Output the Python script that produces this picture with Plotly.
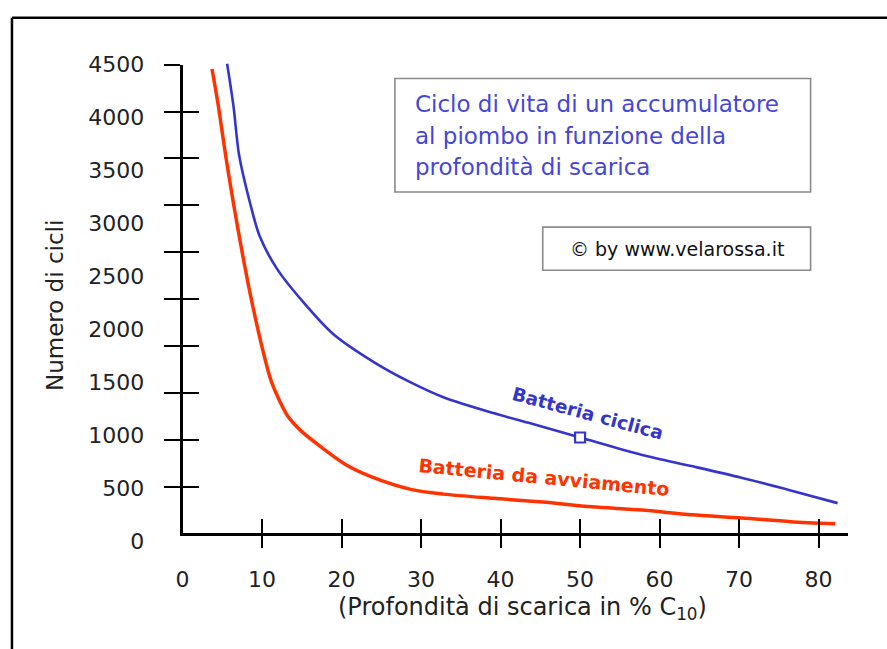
import plotly.graph_objects as go

# ---- data ----
depth_ciclica = [5.6, 6.4, 7.1, 8.5, 9.7, 11.9, 15.1, 18.9, 24.1, 28.7, 32.8,
                 39.1, 44.4, 50.0, 57.8, 64.0, 70.3, 76.5, 82.4]
cicli_ciclica = [4510, 4110, 3650, 3190, 2880, 2570, 2265, 1960, 1690, 1500, 1360,
                 1210, 1100, 980, 815, 710, 600, 480, 360]

depth_avviamento = [3.7, 4.5, 5.4, 6.4, 7.5, 8.7, 10.1, 11.2, 13.2, 15.0, 17.6, 20.6,
                    23.7, 28.7, 32.8, 39.1, 45.3, 51.5, 57.8, 64.0, 70.3, 76.5, 82.1]
cicli_avviamento = [4460, 4110, 3650, 3190, 2725, 2265, 1800, 1500, 1185, 1035, 880, 720,
                    610, 490, 445, 405, 370, 325, 295, 250, 220, 185, 165]

punto_x = [50]
punto_y = [980]

x_ticks = [0, 10, 20, 30, 40, 50, 60, 70, 80]
y_labels = [0, 500, 1000, 1500, 2000, 2500, 3000, 3500, 4000, 4500]
y_marks = [500, 1000, 1500, 2000, 2500, 3000, 3500, 4000, 4500, 5000]

W, H = 887, 649
def px(x):
    return x / W
def py(y):
    return 1 - y / H

BLUE = "#3535cc"
RED = "#ff3300"
FONT = "DejaVu Sans"
INK = "#222222"

fig = go.Figure()
fig.add_trace(go.Scatter(x=depth_avviamento, y=cicli_avviamento, mode="lines",
                         line=dict(color=RED, width=3.5, shape="spline", smoothing=0.8),
                         xaxis="x", yaxis="y", hoverinfo="skip"))
fig.add_trace(go.Scatter(x=depth_ciclica, y=cicli_ciclica, mode="lines",
                         line=dict(color=BLUE, width=2.6, shape="spline", smoothing=0.8),
                         xaxis="x", yaxis="y", hoverinfo="skip"))
fig.add_trace(go.Scatter(x=punto_x, y=punto_y, mode="markers",
                         marker=dict(symbol="square", size=10, color="white",
                                     line=dict(color=BLUE, width=2.2)),
                         xaxis="x", yaxis="y", hoverinfo="skip"))
# empty traces so that the axis-only subplots (tick marks / axis lines) are drawn
for xa, ya in [("x", "y2"), ("x2", "y2"), ("x3", "y2"), ("x", "y3")]:
    fig.add_trace(go.Scatter(x=[], y=[], xaxis=xa, yaxis=ya, mode="lines",
                             hoverinfo="skip", showlegend=False))

x0_px, x1_px = 177, 848
x80_px = 818
upx = (x80_px - x0_px) / 80.0
x_range = [0, (x1_px - x0_px) / upx]

y0_lab, y4500_lab = 545, 58
upy = (y0_lab - y4500_lab) / 4500.0
ydom_bot, ydom_top = 552, 54
y_range = [-(ydom_bot - y0_lab) / upy, 4500 + (y4500_lab - ydom_top) / upy]

tick_dom = [py(537), py(58)]
tickfont = dict(family=FONT, size=22, color=INK)

fig.update_layout(
    width=W, height=H,
    margin=dict(l=0, r=0, t=0, b=0),
    paper_bgcolor="white", plot_bgcolor="rgba(0,0,0,0)",
    showlegend=False,
    xaxis=dict(domain=[px(x0_px), px(x1_px)], range=x_range, anchor="y2",
               tickvals=x_ticks, ticks="outside", ticklen=24, tickcolor="rgba(0,0,0,0)",
               showline=True, linewidth=3, linecolor="black",
               showgrid=False, zeroline=False, tickfont=tickfont),
    xaxis2=dict(overlaying="x", anchor="y2", range=x_range, side="bottom",
                tickvals=x_ticks[1:], ticks="outside", ticklen=14, tickwidth=2,
                tickcolor="black", showticklabels=False, showline=False,
                showgrid=False, zeroline=False),
    xaxis3=dict(overlaying="x", anchor="y2", range=x_range, side="bottom",
                tickvals=x_ticks[1:], ticks="inside", ticklen=14, tickwidth=2,
                tickcolor="black", showticklabels=False, showline=False,
                showgrid=False, zeroline=False),
    yaxis=dict(domain=[py(ydom_bot), py(ydom_top)], range=y_range, anchor="x",
               tickvals=y_labels, ticks="outside", ticklen=33, tickcolor="rgba(0,0,0,0)",
               showline=False, showgrid=False, zeroline=False, tickfont=tickfont),
    yaxis2=dict(domain=tick_dom, range=[0, 5000], anchor="x",
                tickvals=y_marks, ticks="outside", ticklen=16, tickwidth=2, tickcolor="black",
                showline=True, linewidth=3, linecolor="black", showticklabels=False,
                showgrid=False, zeroline=False),
    yaxis3=dict(overlaying="y2", anchor="x", range=[0, 5000],
                tickvals=y_marks, ticks="inside", ticklen=16, tickwidth=2, tickcolor="black",
                showline=False, showticklabels=False, showgrid=False, zeroline=False),
)

shapes = [
    # outer frame (top and left)
    dict(type="line", xref="paper", yref="paper", x0=px(5), y0=py(10), x1=px(890), y1=py(10),
         line=dict(color="black", width=2.5)),
    dict(type="line", xref="paper", yref="paper", x0=px(5), y0=py(10), x1=px(5), y1=py(660),
         line=dict(color="black", width=2.5)),
    # title box
    dict(type="rect", xref="paper", yref="paper", x0=px(391), y0=py(188), x1=px(810), y1=py(72),
         line=dict(color="#8a8a8a", width=1.6), fillcolor="white", layer="below"),
    # copyright box
    dict(type="rect", xref="paper", yref="paper", x0=px(540), y0=py(268), x1=px(810), y1=py(224),
         line=dict(color="#8a8a8a", width=1.6), fillcolor="white", layer="below"),
]
fig.update_layout(shapes=shapes)

title_lines = ["Ciclo di vita di un accumulatore",
               "al piombo in funzione della",
               "profondità di scarica"]
title_y = [98, 131, 162]
ann = []
for t, yy in zip(title_lines, title_y):
    ann.append(dict(text=t, xref="paper", yref="paper", x=px(409), y=py(yy),
                    xanchor="left", yanchor="middle", showarrow=False,
                    font=dict(family=FONT, size=23, color="#4646d8")))
ann.append(dict(text="© by www.velarossa.it", xref="paper", yref="paper",
                x=px(675), y=py(246), xanchor="center", yanchor="middle", showarrow=False,
                font=dict(family=FONT, size=19, color="#111111")))
ann.append(dict(text="<b>Batteria ciclica</b>", xref="paper", yref="paper",
                x=px(586), y=py(414), xanchor="center", yanchor="middle", showarrow=False,
                textangle=15, font=dict(family=FONT, size=18.5, color=BLUE)))
ann.append(dict(text="<b>Batteria da avviamento</b>", xref="paper", yref="paper",
                x=px(541), y=py(479), xanchor="center", yanchor="middle", showarrow=False,
                textangle=5.5, font=dict(family=FONT, size=19, color=RED)))
ann.append(dict(text="(Profondità di scarica in % C<sub>10</sub>)", xref="paper", yref="paper",
                x=px(520), y=py(614), xanchor="center", yanchor="middle", showarrow=False,
                font=dict(family=FONT, size=24, color=INK)))
ann.append(dict(text="Numero di cicli", xref="paper", yref="paper",
                x=px(49), y=py(304), xanchor="center", yanchor="middle", showarrow=False,
                textangle=-90, font=dict(family=FONT, size=23, color=INK)))
fig.update_layout(annotations=ann)

fig.write_html("out.html", config={"displayModeBar": False},
               post_script="document.body.style.margin='0';document.body.style.overflow='hidden';")
